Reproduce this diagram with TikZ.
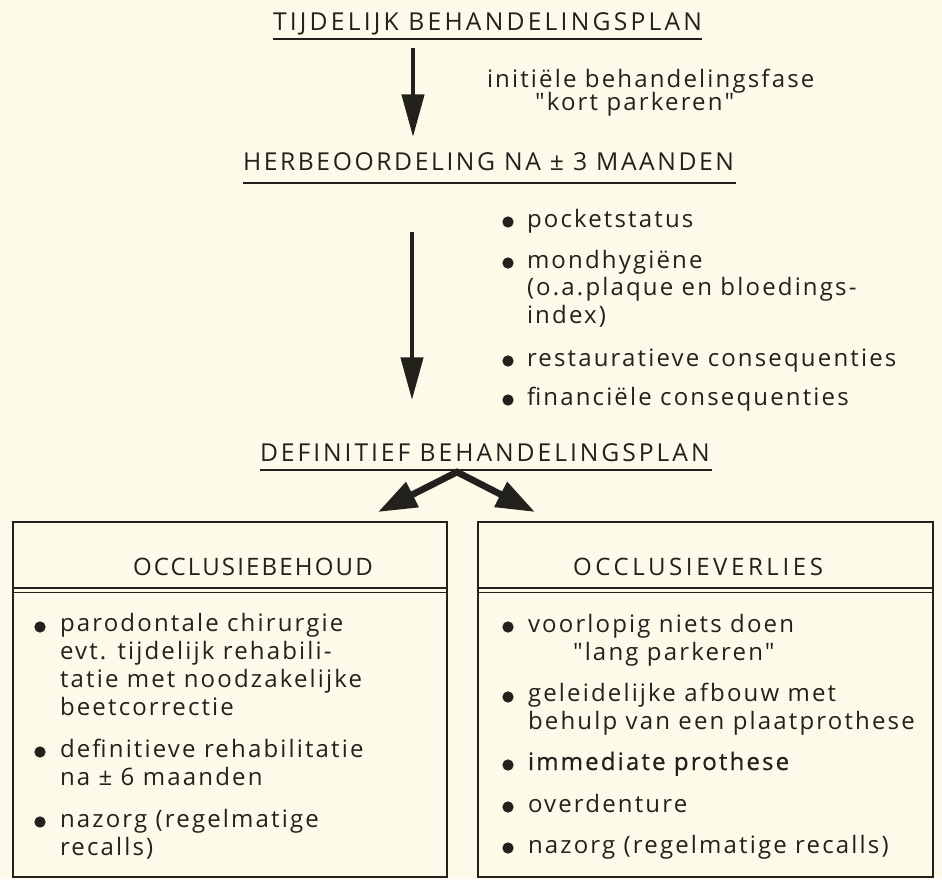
\documentclass[tikz,border=0pt]{standalone}
\usepackage{fontspec}
\setmainfont{Open Sans}[Ligatures=TeXOff]
\usetikzlibrary{arrows.meta}
\definecolor{paper}{RGB}{252,250,232}
\definecolor{ink}{RGB}{35,33,28}
\newcommand{\bodyfont}{\fontsize{18}{20.8}\selectfont\addfontfeatures{LetterSpace=9}}
\newcommand{\titlefont}{\fontsize{18.5}{21}\selectfont\addfontfeatures{LetterSpace=13}}
\newcommand{\dq}{\symbol{34}}
\begin{document}
\begin{tikzpicture}[x=0.75pt,y=-0.75pt,
  every node/.style={inner sep=0pt, outer sep=0pt, text=ink},
  title/.style={anchor=base west, font=\titlefont},
  body/.style={anchor=base west, align=left, font=\bodyfont},
  uline/.style={draw=ink, line width=2.2pt},
  dot/.style={circle, fill=ink, minimum size=8.5pt},
  bigarrow/.style={draw=ink, line width=3.3pt, -{Triangle[width=16.5pt,length=32pt]}},
  box/.style={draw=ink, line width=1.8pt, anchor=north west, minimum height=266.25pt},
]
\fill[paper] (0,0) rectangle (942,879);
\useasboundingbox (0,0) rectangle (942,879);

% titles
\node[title] (t1) at (273,30) {TIJDELIJK BEHANDELINGSPLAN};
\draw[uline] (273,39) -- (702,39);
\node[title, font={\titlefont\addfontfeatures{LetterSpace=10.5}}] (t2) at (243,170) {HERBEOORDELING NA ± 3 MAANDEN};
\draw[uline] (243,183) -- (736,183);
\node[title, font={\titlefont\addfontfeatures{LetterSpace=12}}] (t3) at (260,461) {DEFINITIEF BEHANDELINGSPLAN};
\draw[uline] (260,470) -- (712,470);

% side note
\node[body] (n1) at (487,87) {initiële behandelingsfase};
\node[body] (n2) at (535,110) {\dq kort parkeren\dq};

% arrows
\coordinate (a1s) at (413,48);
\coordinate (a1e) at (413,137);
\draw[bigarrow] (a1s) -- (a1e);
\coordinate (a2s) at (412,232);
\coordinate (a2e) at (412,400);
\draw[bigarrow] (a2s) -- (a2e);

% upper list (base anchor = baseline of last line)
\node[dot] (u1) at (508,222) {};
\node[body] (i1) at (527,227) {pocketstatus};
\node[dot] (u2) at (508,263) {};
\node[body] (i2) at (527,323.5) {mondhygiëne\\(o.a.plaque en bloedings-\\index)};
\node[dot] (u3) at (508,361) {};
\node[body] (i3) at (527,366) {restauratieve consequenties};
\node[dot] (u4) at (508,400) {};
\node[body] (i4) at (527,405) {financiële consequenties};

% split arrow
\coordinate (apex) at (457,472);
\coordinate (dl) at (378,512);
\coordinate (dr) at (535,512);
\draw[draw=ink, line width=5pt, line join=miter,
  {Triangle[width=20pt,length=29pt]}-{Triangle[width=20pt,length=29pt]}] (dl) -- (apex) -- (dr);

% boxes
\node[box, minimum width=325.5pt] (lbox) at (13,522) {};
\node[box, minimum width=341.25pt] (rbox) at (478,522) {};
\draw[ink, line width=1.8pt] (13,588) -- (446,588);
\draw[ink, line width=1.1pt] (13,592.5) -- (446,592.5);
\draw[ink, line width=1.8pt] (478,588) -- (933,588);
\draw[ink, line width=1.1pt] (478,592.5) -- (933,592.5);

\node[title, font=\bodyfont] (h1) at (133,575) {OCCLUSIEBEHOUD};
\node[title, font={\bodyfont\addfontfeatures{LetterSpace=15}}] (h2) at (573,575) {OCCLUSIEVERLIES};

% left box items
\node[dot] (l1) at (40,627) {};
\node[body] (li1) at (60,715) {parodontale chirurgie\\evt. tijdelijk rehabili-\\tatie met noodzakelijke\\beetcorrectie};
\node[dot] (l2) at (40,752) {};
\node[body] (li2) at (60,785) {definitieve rehabilitatie\\na ± 6 maanden};
\node[dot] (l3) at (40,822) {};
\node[body] (li3) at (60,855) {nazorg (regelmatige\\recalls)};

% right box items
\node[dot] (r1) at (508,627) {};
\node[body] (ri1) at (528,660) {voorlopig niets doen\\\hspace*{33.75pt}\dq lang parkeren\dq};
\node[dot] (r2) at (508,697) {};
\node[body] (ri2) at (528,729) {geleidelijke afbouw met\\behulp van een plaatprothese};
\node[dot] (r3) at (508,765) {};
\node[body] (ri3) at (528,770) {\addfontfeatures{FakeBold=0.6}immediate prothese};
\node[dot] (r4) at (508,807) {};
\node[body] (ri4) at (528,812) {overdenture};
\node[dot] (r5) at (508,848) {};
\node[body] (ri5) at (528,853) {nazorg (regelmatige recalls)};
\end{tikzpicture}
\end{document}
